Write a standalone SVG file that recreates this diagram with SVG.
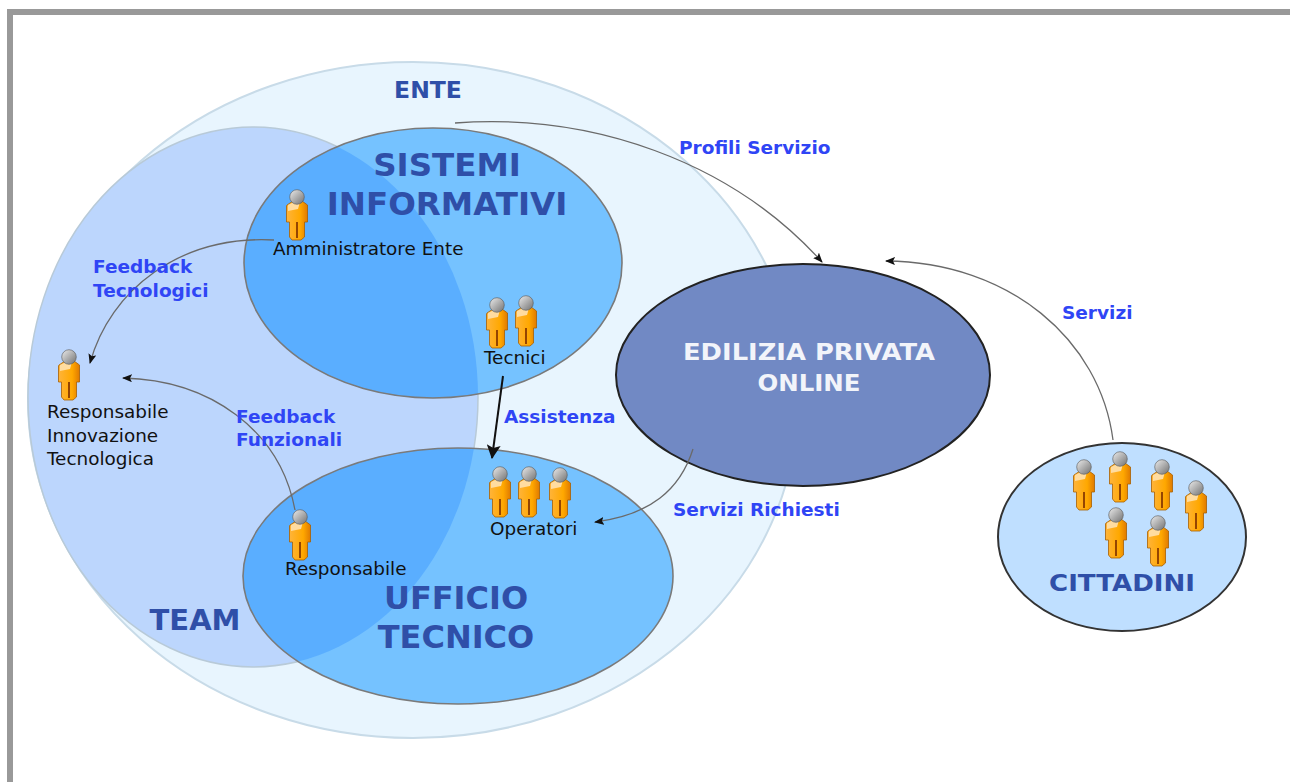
<svg xmlns="http://www.w3.org/2000/svg" width="1290" height="782" viewBox="0 0 1290 782">
<style>
text{font-family:"DejaVu Sans",Verdana,sans-serif}
.h{font-weight:bold;fill:#2f4fa8;text-anchor:middle}
.l{font-weight:bold;fill:#2f45f5;font-size:18.5px}
.k{fill:#111;font-size:18.4px}
.c{fill:none;stroke:#6a6a6a;stroke-width:1.3}
.e{stroke:#7a7a7a;stroke-width:1.6}
</style>
<defs>
<clipPath id="tc"><ellipse cx="253" cy="397" rx="225" ry="270"/></clipPath>
<marker id="a" markerWidth="10" markerHeight="8" refX="9" refY="4" orient="auto" markerUnits="userSpaceOnUse"><path d="M0 0L10 4L0 8L2 4Z" fill="#111"/></marker>
<marker id="b" markerWidth="14" markerHeight="14" refX="13" refY="7" orient="auto" markerUnits="userSpaceOnUse"><path d="M0 0L14 7L0 14L3 7Z" fill="#111"/></marker>
<linearGradient id="hd" x1="0" y1="0" x2="1" y2="1"><stop offset="0" stop-color="#ececec"/><stop offset="1" stop-color="#707070"/></linearGradient>
<linearGradient id="bd" x1="0" y1="0" x2="1" y2="0"><stop offset="0" stop-color="#ffb43a"/><stop offset=".65" stop-color="#ffa800"/><stop offset="1" stop-color="#e07a00"/></linearGradient>
<g id="p">
<path d="M-10 8L-4 4H5L10.500 8V25H7.500V40L4 43H-5L-7.500 40V25H-10.500V9Z" fill="url(#bd)" stroke="#a85f00" stroke-width=".8"/>
<path d="M0 25V41" stroke="#8a3a00" stroke-width="1.800"/>
<path d="M-9 8L-3 5H3L1 12L-9 14Z" fill="#ffdca0"/>
<circle cx="0" cy="0" r="7.300" fill="url(#hd)" stroke="#555" stroke-width=".6"/>
</g>
</defs>
<rect x="0" y="0" width="1290" height="782" fill="#fff"/>
<path d="M1290 12H10V782" fill="none" stroke="#999" stroke-width="6"/>
<g id="ente"><ellipse cx="413" cy="400" rx="385" ry="338" fill="#e8f5fe" stroke="#c8dbe8" stroke-width="2"/><text class="h" x="428" y="98" font-size="23.500">ENTE</text></g>
<g id="team"><ellipse cx="253" cy="397" rx="225" ry="270" fill="#bcd6fd" stroke="#b8cad8" stroke-width="1.500"/><text class="h" x="195" y="630" font-size="29">TEAM</text></g>
<g id="sistemi">
<ellipse cx="433" cy="263" rx="189" ry="135" fill="#75c2ff"/>
<ellipse cx="433" cy="263" rx="189" ry="135" fill="#5aaeff" clip-path="url(#tc)"/>
<ellipse class="e" cx="433" cy="263" rx="189" ry="135" fill="none"/>
<text class="h" x="447" y="176" font-size="32.500">SISTEMI</text>
<text class="h" x="447" y="215" font-size="32.500">INFORMATIVI</text>
<use href="#p" x="297" y="197"/>
<text class="k" x="273" y="255">Amministratore Ente</text>
<use href="#p" x="497" y="305"/><use href="#p" x="526" y="303"/>
<text class="k" x="484" y="364">Tecnici</text>
</g>
<g id="ufficio">
<ellipse cx="458" cy="576" rx="215" ry="128" fill="#75c2ff"/>
<ellipse cx="458" cy="576" rx="215" ry="128" fill="#5aaeff" clip-path="url(#tc)"/>
<ellipse class="e" cx="458" cy="576" rx="215" ry="128" fill="none"/>
<text class="h" x="456" y="609" font-size="32">UFFICIO</text>
<text class="h" x="456" y="648" font-size="32">TECNICO</text>
<use href="#p" x="500" y="474"/><use href="#p" x="529" y="474"/><use href="#p" x="560" y="475"/>
<text class="k" x="490" y="535">Operatori</text>
<use href="#p" x="300" y="517"/>
<text class="k" x="285" y="575">Responsabile</text>
</g>
<g id="responsabile-innovazione">
<use href="#p" x="69" y="357"/>
<text class="k" x="47" y="418">Responsabile</text>
<text class="k" x="47" y="442">Innovazione</text>
<text class="k" x="47" y="465">Tecnologica</text>
</g>
<g id="edilizia"><ellipse cx="803" cy="375" rx="187" ry="111" fill="#7189c4" stroke="#222" stroke-width="2"/>
<text class="h" x="809" y="360" font-size="23" textLength="252" lengthAdjust="spacingAndGlyphs" style="fill:#f2f4fa">EDILIZIA PRIVATA</text><text class="h" x="809" y="391" font-size="23" textLength="103" lengthAdjust="spacingAndGlyphs" style="fill:#f2f4fa">ONLINE</text></g>
<g id="cittadini"><ellipse cx="1122" cy="537" rx="124" ry="94" fill="#bfdfff" stroke="#333" stroke-width="2"/>
<use href="#p" x="1084" y="467"/><use href="#p" x="1120" y="459"/><use href="#p" x="1162" y="467"/><use href="#p" x="1196" y="488"/><use href="#p" x="1116" y="515"/><use href="#p" x="1158" y="523"/>
<text class="h" x="1122" y="591" font-size="23" textLength="146" lengthAdjust="spacingAndGlyphs">CITTADINI</text></g>
<g id="connectors">
<path class="c" d="M455 123C590 113 730 160 822 262" marker-end="url(#a)"/>
<path class="c" d="M1113 440C1100 340 1010 262 886 261" marker-end="url(#a)"/>
<path class="c" d="M274 240C180 235 110 290 90 363" marker-end="url(#a)"/>
<path class="c" d="M295 510C280 430 210 380 123 378" marker-end="url(#a)"/>
<path class="c" d="M693 449C680 490 650 515 595 522" marker-end="url(#a)"/>
<path d="M503 376L492 458" fill="none" stroke="#111" stroke-width="2" marker-end="url(#b)"/>
</g>
<g id="labels">
<text class="l" x="679" y="154">Profili Servizio</text>
<text class="l" x="1062" y="319">Servizi</text>
<text class="l" x="93" y="273">Feedback</text>
<text class="l" x="93" y="297">Tecnologici</text>
<text class="l" x="236" y="423">Feedback</text>
<text class="l" x="236" y="446">Funzionali</text>
<text class="l" x="504" y="423">Assistenza</text>
<text class="l" x="673" y="516">Servizi Richiesti</text>
</g>
</svg>
